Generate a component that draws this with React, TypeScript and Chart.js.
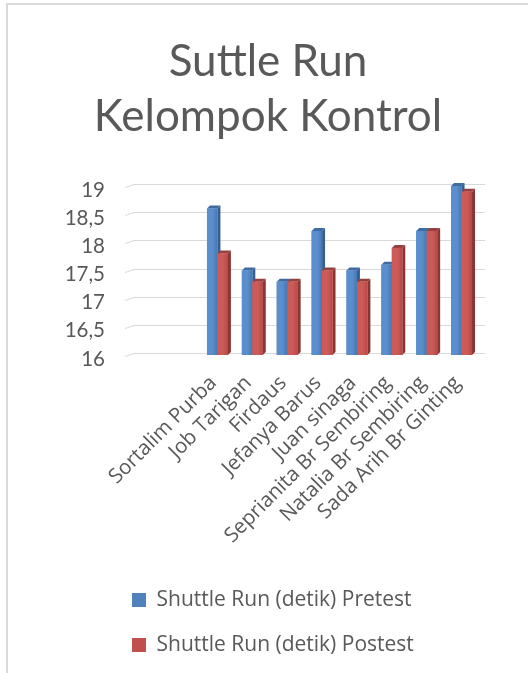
import React, { useEffect, useRef } from 'react';
import { Chart, registerables } from 'chart.js';

Chart.register(...registerables);

const titleLines = ['Suttle Run', 'Kelompok Kontrol'];
const categories = [
  'Sortalim Purba',
  'Job Tarigan',
  'Firdaus',
  'Jefanya Barus',
  'Juan sinaga',
  'Seprianita Br Sembiring',
  'Natalia Br Sembiring',
  'Sada Arih Br Ginting',
];
const seriesNames = ['Shuttle Run (detik) Pretest', 'Shuttle Run (detik) Postest'];
const pretest = [18.6, 17.5, 17.3, 18.2, 17.5, 17.6, 18.2, 19.0];
const postest = [17.8, 17.3, 17.3, 17.5, 17.3, 17.9, 18.2, 18.9];
const yMin = 16;
const yMax = 19;
const yStep = 0.5;

const FONT = 'Lato, "Open Sans", sans-serif';
const SMALL_FONT = '"Open Sans", Lato, sans-serif';
const TEXT = '#595959';
const GRID = '#d9d9d9';

export default function App() {
  const ref = useRef<HTMLCanvasElement>(null);

  useEffect(() => {
    const canvas = ref.current;
    if (!canvas) return;
    const depth = 3;
    const faces = [
      { front: ['#5B8ECC', '#4676B2'], side: '#365F8F', top: '#3E6BA1' },
      { front: ['#CC5B58', '#B44845'], side: '#8A3533', top: '#98403D' },
    ];

    const excel3d = {
      id: 'excel3d',
      beforeDraw(chart: any) {
        const { ctx } = chart;
        ctx.save();
        ctx.fillStyle = '#ffffff';
        ctx.fillRect(0, 0, chart.width, chart.height);
        ctx.strokeStyle = GRID;
        ctx.lineWidth = 2;
        ctx.beginPath();
        ctx.moveTo(7, chart.height + 2);
        ctx.lineTo(7, 4);
        ctx.lineTo(chart.width + 2, 4);
        ctx.stroke();
        ctx.restore();
      },
      afterLayout(chart: any) {
        const lg = chart.legend;
        if (lg) {
          const shift = 51;
          lg.left += shift;
          lg.right += shift;
        }
      },
      beforeDatasetsDraw(chart: any) {
        const { ctx, chartArea, scales } = chart;
        const ys = scales.y;
        ctx.save();
        ctx.strokeStyle = GRID;
        ctx.lineWidth = 1;
        ys.ticks.forEach((t: any) => {
          const py = Math.round(ys.getPixelForValue(t.value)) - 1.5;
          ctx.beginPath();
          ctx.moveTo(chartArea.left - 75, py + 3);
          ctx.lineTo(chartArea.left - 66, py);
          ctx.lineTo(chartArea.right + 6, py);
          ctx.stroke();
        });
        chart.data.datasets.forEach((_: any, di: number) => {
          const meta = chart.getDatasetMeta(di);
          const f = faces[di];
          meta.data.forEach((bar: any) => {
            const l = bar.x - bar.width / 2;
            const r = bar.x + bar.width / 2;
            const top = bar.y;
            const base = bar.base;
            ctx.fillStyle = f.side;
            ctx.beginPath();
            ctx.moveTo(r, top);
            ctx.lineTo(r + depth, top - depth);
            ctx.lineTo(r + depth, base - depth);
            ctx.lineTo(r, base);
            ctx.closePath();
            ctx.fill();
            ctx.fillStyle = f.top;
            ctx.beginPath();
            ctx.moveTo(l, top);
            ctx.lineTo(l + depth, top - depth);
            ctx.lineTo(r + depth, top - depth);
            ctx.lineTo(r, top);
            ctx.closePath();
            ctx.fill();
          });
        });
        ctx.restore();
      },
      afterDatasetsDraw(chart: any) {
        const { ctx } = chart;
        ctx.save();
        chart.data.datasets.forEach((_: any, di: number) => {
          const meta = chart.getDatasetMeta(di);
          const f = faces[di];
          meta.data.forEach((bar: any) => {
            const l = bar.x - bar.width / 2;
            const r = bar.x + bar.width / 2;
            const g = ctx.createLinearGradient(l, 0, r, 0);
            g.addColorStop(0, f.front[0]);
            g.addColorStop(0.55, f.front[0]);
            g.addColorStop(1, f.front[1]);
            ctx.fillStyle = g;
            ctx.fillRect(l, bar.y, r - l, bar.base - bar.y);
          });
        });
        ctx.restore();
      },
    };

    const chart = new Chart(canvas, {
      type: 'bar',
      data: {
        labels: categories,
        datasets: [
          { label: seriesNames[0], data: pretest, backgroundColor: '#4F81BD', borderWidth: 0, base: yMin },
          { label: seriesNames[1], data: postest, backgroundColor: '#C0504D', borderWidth: 0, base: yMin },
        ],
      },
      options: {
        responsive: false,
        animation: false,
        events: [],
        layout: { padding: { left: 57, right: 49, top: 0, bottom: 7.5 } },
        datasets: { bar: { categoryPercentage: 0.6, barPercentage: 1.0 } },
        plugins: {
          title: {
            display: true,
            text: titleLines,
            color: TEXT,
            font: { family: FONT, size: 44, weight: 'normal', lineHeight: 1.25 },
            padding: { top: 34, bottom: 42 },
          },
          legend: {
            position: 'bottom',
            align: 'start',
            labels: {
              boxWidth: 14,
              boxHeight: 14,
              padding: 24,
              color: TEXT,
              font: { family: SMALL_FONT, size: 21 },
            },
          },
          tooltip: { enabled: false },
        },
        scales: {
          x: {
            grid: { display: false, drawTicks: false },
            border: { display: false },
            ticks: {
              color: TEXT,
              font: { family: SMALL_FONT, size: 20.5 },
              minRotation: 45,
              maxRotation: 45,
              autoSkip: false,
              padding: 16,
              labelOffset: -4,
            },
            afterFit(s: any) {
              s.height = 210.5;
            },
          },
          y: {
            min: yMin,
            max: yMax,
            grid: { display: false, drawTicks: false },
            border: { display: false },
            ticks: {
              stepSize: yStep,
              color: TEXT,
              font: { family: FONT, size: 20.5 },
              padding: 95,
              labelOffset: 4,
              callback: (v: any) => String(v).replace('.', ','),
            },
            afterFit(s: any) {
              s.width = 200 - 57;
            },
          },
        },
      },
      plugins: [excel3d],
    });
    return () => chart.destroy();
  }, []);

  return (
    <div style={{ position: 'fixed', left: 0, top: 0, width: 528, height: 673, background: '#fff' }}>
      <canvas ref={ref} width={528} height={673} style={{ display: 'block', width: 528, height: 673 }} />
    </div>
  );
}
